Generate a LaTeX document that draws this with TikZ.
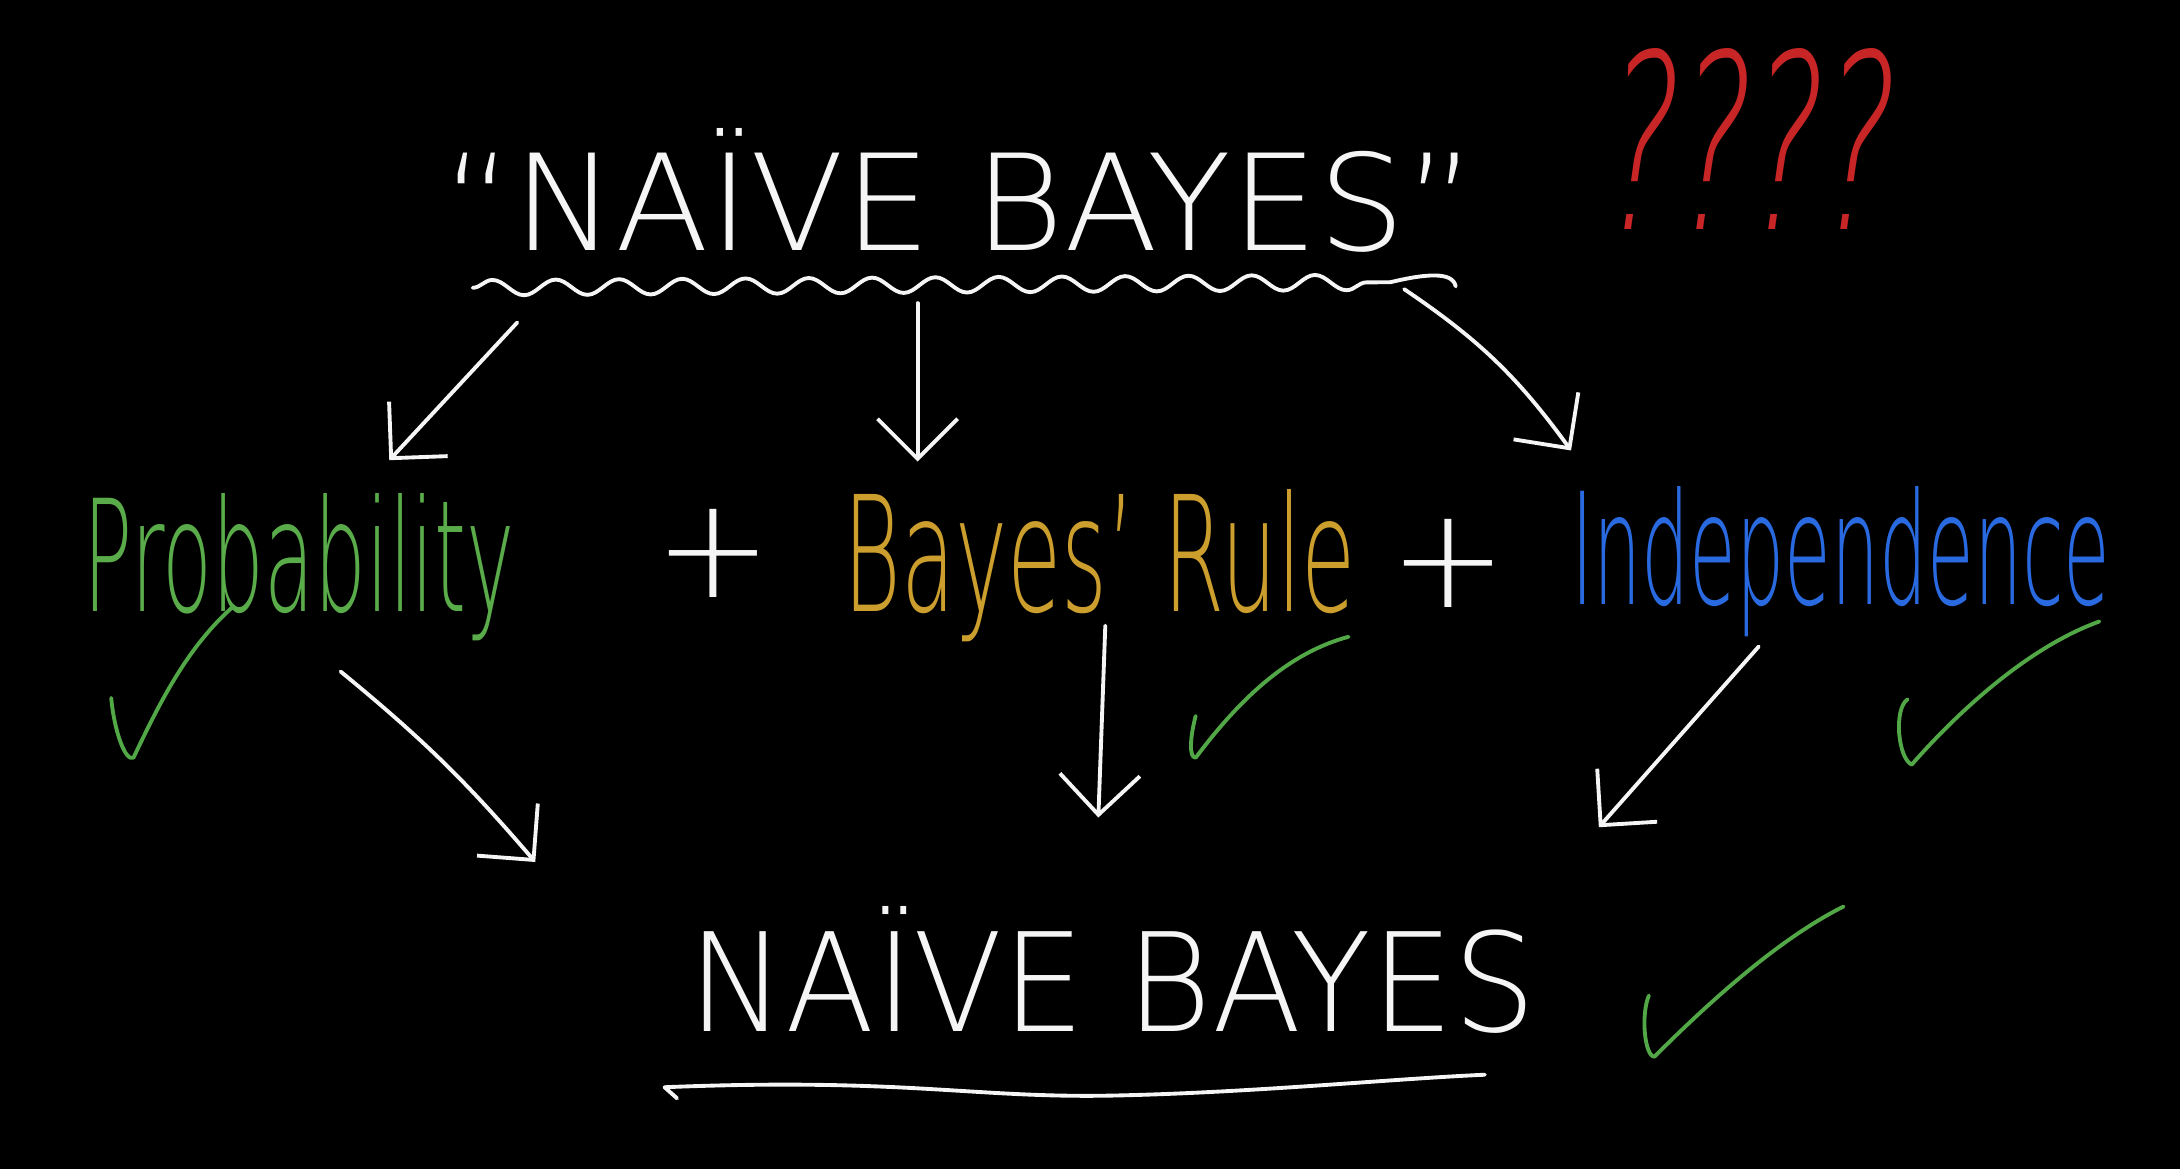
\documentclass[tikz,border=0pt]{standalone}
\usepackage{fontspec}
\usepackage{graphicx}
\usepackage{tikz}
\usetikzlibrary{arrows.meta, calc, decorations.pathmorphing}
\IfFontExistsTF{DejaVuSans-ExtraLight.ttf}
  {\newfontfamily\handfont{DejaVuSans-ExtraLight.ttf}
   \newfontfamily\handslant{DejaVuSans-ExtraLight.ttf}[FakeSlant=0.25]}
  {\newfontfamily\handfont{DejaVu Sans}
   \newfontfamily\handslant{DejaVu Sans}[FakeSlant=0.25]}
\definecolor{chalk}{RGB}{245,245,245}
\definecolor{tickgreen}{RGB}{82,168,70}
\definecolor{probgreen}{RGB}{90,172,74}
\definecolor{rulegold}{RGB}{204,158,46}
\definecolor{indepblue}{RGB}{42,106,224}
\definecolor{askred}{RGB}{200,38,38}
\tikzset{
  word/.style={inner sep=0pt, outer sep=0pt, anchor=base, font=\handfont},
  plus/.style={inner sep=0pt, outer sep=0pt, text=chalk,
    font=\handfont\fontsize{40}{40}\selectfont},
  line/.style={draw=chalk, line width=1.1pt, line cap=round, line join=round},
  arrow/.style={line, -{Straight Barb[length=4mm, width=8mm]}},
  tick/.style={draw=tickgreen, line width=1.1pt, line cap=round, line join=round}
}

\begin{document}
\begin{tikzpicture}[x=0.013903cm, y=-0.013903cm]
  % --- Board ---
  \fill[black] (0,0) rectangle (1568,841);
  \useasboundingbox (0,0) rectangle (1568,841);

  % --- Title ---
  \node[word, text=chalk] (title) at (690,180) {\resizebox{10.34cm}{1.22cm}{“NAÏVE BAYES”}};
  \node[word, text=askred, font=\handslant] (huh) at (1251,165) {\resizebox{2.88cm}{1.81cm}{????}};
  \draw[line, decorate, decoration={snake, amplitude=2.2pt, segment length=18pt}]
    (340,207) -- (1000,203);
  \draw[line] (1000,203) .. controls (1025,197) and (1045,195) .. (1047,206);

  % --- Ingredients ---
  \node[word, text=probgreen] (prob) at (215,440) {\resizebox{4.31cm}{1.18cm}{Probability}};
  \node[plus] (plusa) at (513,398) {+};
  \node[word, text=rulegold] (bayes) at (791,440) {\resizebox{5.12cm}{1.22cm}{Bayes’ Rule}};
  \node[plus] (plusb) at (1042,405) {+};
  \node[word, text=indepblue] (indep) at (1324,435) {\resizebox{5.39cm}{1.18cm}{Independence}};

  % --- Result ---
  \node[word, text=chalk] (nb) at (800,742) {\resizebox{8.48cm}{1.25cm}{NAÏVE BAYES}};
  \draw[line] (487,790) -- (478,782)
    .. controls (650,775) and (700,790) .. (800,788)
    .. controls (900,786) and (1000,776) .. (1068,773);

  % --- Arrows ---
  \draw[arrow] ($(title.base)+(-318,52)$) -- ($(prob.base)+(65,-109)$);
  \draw[arrow] ($(title.base)+(-30,38)$) -- ($(bayes.base)+(-131,-108)$);
  \draw[arrow] ($(title.base)+(320,28)$) to[bend left=10] ($(indep.base)+(-194,-111)$);
  \draw[arrow] ($(prob.base)+(30,43)$) to[bend left=5] ($(nb.base)+(-415,-122)$);
  \draw[arrow] ($(bayes.base)+(4,10)$) -- ($(nb.base)+(-10,-154)$);
  \draw[arrow] ($(indep.base)+(-59,30)$) -- ($(nb.base)+(350,-147)$);

  % --- Ticks ---
  \draw[tick] (80,502) .. controls (82,525) and (90,548) .. (96,545)
    .. controls (115,505) and (135,465) .. (168,436);
  \draw[tick] (860,515) .. controls (856,530) and (855,545) .. (860,545)
    .. controls (890,505) and (925,470) .. (970,458);
  \draw[tick] (1372,503) .. controls (1362,510) and (1365,545) .. (1375,550)
    .. controls (1410,510) and (1460,465) .. (1510,447);
  \draw[tick] (1186,716) .. controls (1180,730) and (1183,760) .. (1190,760)
    .. controls (1230,720) and (1280,675) .. (1326,652);
\end{tikzpicture}
\end{document}
